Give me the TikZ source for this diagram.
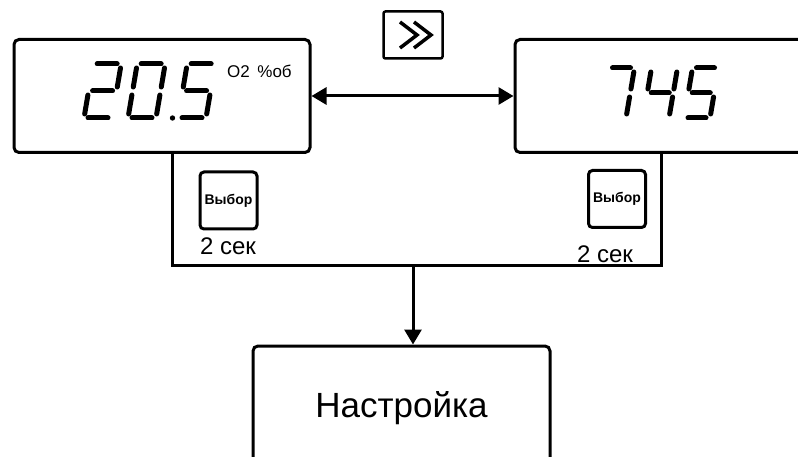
\documentclass[tikz,border=0pt]{standalone}
\usepackage{fontspec}
\setmainfont{Liberation Sans}
\usetikzlibrary{arrows.meta}
\tikzset{
  box/.style={draw, line width=3pt, rounded corners=5pt, inner sep=0pt},
  keybox/.style={draw, line width=3pt, rounded corners=4pt, minimum width=57pt, minimum height=57pt, inner sep=0pt, font=\bfseries\fontsize{14}{16}\selectfont},
  conn/.style={line width=3pt},
  seg/.style={line width=5pt, line cap=round},
  lbl/.style={inner sep=0pt, font=\fontsize{24}{28}\selectfont},
  tip/.style={-{Triangle[length=15pt,width=17pt]}},
}
\newcommand\DigitAt[5]{%
  \begin{scope}[shift={(#1,#2)},xslant=0.17]
    \def\w{#3}\def\h{#4}%
    #5
  \end{scope}}
\newcommand\sA{\draw[seg] (4,-\h) -- (\w-4,-\h);}
\newcommand\sB{\draw[seg] (\w,-\h+4) -- (\w,-\h/2-4);}
\newcommand\sC{\draw[seg] (\w,-\h/2+4) -- (\w,-4);}
\newcommand\sD{\draw[seg] (4,0) -- (\w-4,0);}
\newcommand\sE{\draw[seg] (0,-\h/2+4) -- (0,-4);}
\newcommand\sF{\draw[seg] (0,-\h+4) -- (0,-\h/2-4);}
\newcommand\sG{\draw[seg] (4,-\h/2) -- (\w-4,-\h/2);}
\begin{document}
\begin{tikzpicture}[x=1pt,y=-1pt]
\useasboundingbox (0,0) rectangle (798,457);
\clip (0,0) rectangle (798,457);
\fill[white] (0,0) rectangle (798,457);

% main boxes
\node[box, minimum width=296pt, minimum height=113pt] (lbox) at (162,96) {};
\node[box, minimum width=296pt, minimum height=113pt] (rbox) at (663,96) {};
\node[box, minimum width=297pt, minimum height=124pt] (set) at (401.5,408) {\fontsize{35}{40}\selectfont Настройка};

% top key
\node[draw, line width=2.5pt, rounded corners=2pt, minimum width=59pt, minimum height=47pt, inner sep=0pt] (next) at (413,35) {};
\draw[line width=3.5pt] (400,22) -- (417,35) -- (400,48);
\draw[line width=3.5pt] (414,22) -- (431,35) -- (414,48);

% double arrow
\draw[conn, {Triangle[length=15pt,width=17pt]}-{Triangle[length=15pt,width=17pt]}] (lbox.east) -- (rbox.west);

% digits 20.5
\DigitAt{84}{118}{28}{54}{\sA\sB\sG\sE\sD}
\DigitAt{128}{118}{28}{54}{\sA\sB\sC\sD\sE\sF}
\fill (172.5,118) circle (2.7pt);
\DigitAt{178}{118}{28}{54}{\sA\sF\sG\sC\sD}
\node[inner sep=0pt, font=\fontsize{17}{20}\selectfont, anchor=west] (unit) at (227,71) {O2 \,\%об};

% digits 745
\DigitAt{600}{118}{26}{50}{\sA\sB\sC}
\DigitAt{643}{118}{26}{50}{\sF\sG\sB\sC}
\DigitAt{684}{118}{26}{50}{\sA\sF\sG\sC\sD}

% select keys
\node[keybox] (kl) at (228.5,200.5) {Выбор};
\node[lbl] (tl) at (228,246) {2 сек};
\node[keybox] (kr) at (617,199) {Выбор};
\node[lbl] (tr) at (605,254) {2 сек};

% connectors
\coordinate (bl) at (172,266);
\coordinate (br) at (661,266);
\coordinate (bm) at (413,266);
\draw[conn] (lbox.south -| bl) -- (bl) -- (br) -- (rbox.south -| br);
\draw[conn, tip] (bm) -- (bm |- set.north);
\end{tikzpicture}
\end{document}
